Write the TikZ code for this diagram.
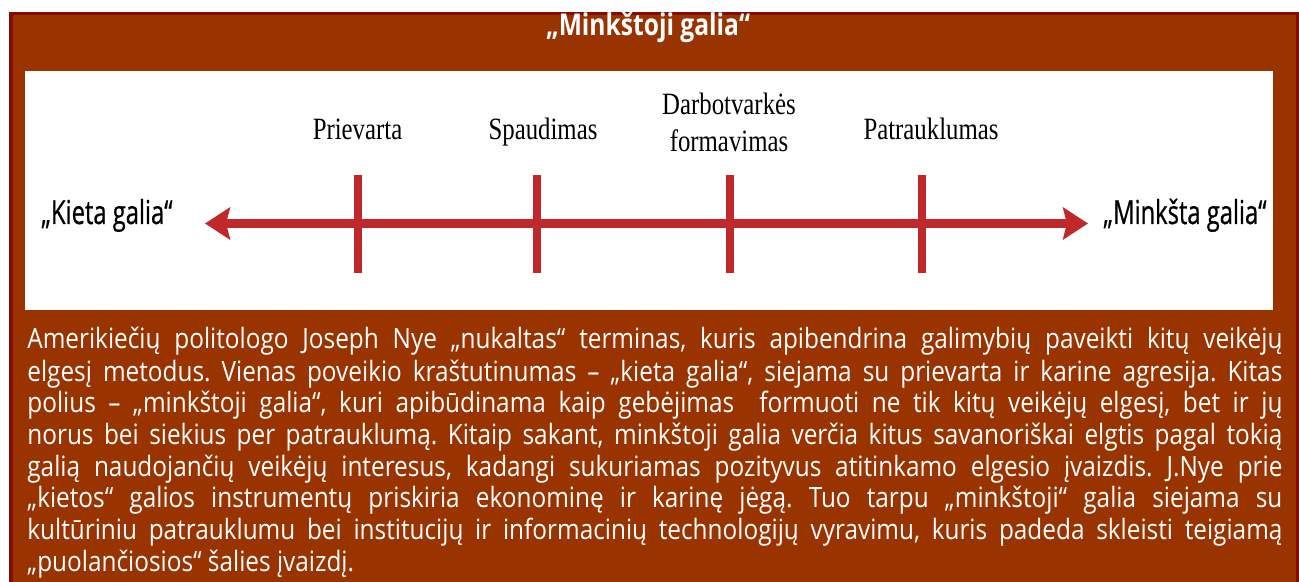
\documentclass[tikz,border=0pt]{standalone}
\usepackage{fontspec}
\setmainfont{Open Sans}
\newfontfamily\bodyfont{Open Sans}[FakeStretch=0.87]
\newfontfamily\titlefont{Open Sans}[FakeStretch=0.82]
\newfontfamily\polefont{Open Sans}[FakeStretch=0.72, FakeBold=0.6]
\newfontfamily\stepfont{Liberation Serif}[FakeStretch=0.8]
\usetikzlibrary{arrows.meta}
\definecolor{boxbrown}{HTML}{993300}
\definecolor{boxedge}{HTML}{860A06}
\definecolor{axisred}{HTML}{C0292B}
\newcommand{\fullline}[1]{\makebox[627.5pt][s]{#1}}
\frenchspacing
\tikzset{
    textline/.style={anchor=base west, inner sep=0pt, text=white, font=\bodyfont\fontsize{14}{16}\selectfont},
    titletext/.style={anchor=base, inner sep=0pt, text=white, font=\titlefont\bfseries\fontsize{15}{18}\selectfont},
    steplabel/.style={anchor=base, inner sep=0pt, font=\stepfont\fontsize{15.5}{18}\selectfont},
    polelabel/.style={anchor=base, inner sep=0pt, font=\polefont\fontsize{16.5}{20}\selectfont},
    axisline/.style={axisred, line width=4.5pt, {Stealth[length=12.5pt, width=16pt, inset=2pt]}-{Stealth[length=12.5pt, width=16pt, inset=2pt]}},
    tickmark/.style={axisred, line width=4pt}
}
\begin{document}
\begin{tikzpicture}[x=0.5pt,y=-0.5pt]
    \useasboundingbox (0,0) rectangle (1299,582);
    % Frame
    \fill[boxbrown] (9,12) rectangle (1299,582);
    \draw[boxedge, line width=1.75pt] (10.75,582) |- (1297.25,13.75) -- (1297.25,582);
    \fill[white] (25,71) rectangle (1273,310);
    \node[titletext] (title) at (648,36) {„Minkštoji galia“};
    % Axis
    \coordinate (hard) at (205,223.5);
    \coordinate (soft) at (1088,223.5);
    \foreach \x in {358,537,730,922}
        \draw[tickmark] (\x,175) -- (\x,273);
    \draw[axisline] (hard) -- (soft);
    % Labels
    \node[steplabel] (coercion) at (357.5,140) {Prievarta};
    \node[steplabel] (pressure) at (543,140) {Spaudimas};
    \node[steplabel] (agendatop) at (729,115) {Darbotvarkės};
    \node[steplabel] (agendabot) at (729,152) {formavimas};
    \node[steplabel] (attraction) at (931,140) {Patrauklumas};
    \node[polelabel] (hardlabel) at (107,224) {„Kieta galia“};
    \node[polelabel] (softlabel) at (1185,224) {„Minkšta galia“};
    % Text
    \node[textline] (line1) at (27,349) {\fullline{Amerikiečių politologo Joseph Nye „nukaltas“ terminas, kuris apibendrina galimybių paveikti kitų veikėjų}};
    \node[textline] (line2) at (27,381) {\fullline{elgesį metodus. Vienas poveikio kraštutinumas – „kieta galia“, siejama su prievarta ir karine agresija. Kitas}};
    \node[textline] (line3) at (27,412) {\fullline{polius – „minkštoji galia“, kuri apibūdinama kaip gebėjimas\ \ formuoti ne tik kitų veikėjų elgesį, bet ir jų}};
    \node[textline] (line4) at (27,444) {\fullline{norus bei siekius per patrauklumą. Kitaip sakant, minkštoji galia verčia kitus savanoriškai elgtis pagal tokią}};
    \node[textline] (line5) at (27,476) {\fullline{galią naudojančių veikėjų interesus, kadangi sukuriamas pozityvus atitinkamo elgesio įvaizdis. J.Nye prie}};
    \node[textline] (line6) at (27,507) {\fullline{„kietos“ galios instrumentų priskiria ekonominę ir karinę jėgą. Tuo tarpu „minkštoji“ galia siejama su}};
    \node[textline] (line7) at (27,539) {\fullline{kultūriniu patrauklumu bei institucijų ir informacinių technologijų vyravimu, kuris padeda skleisti teigiamą}};
    \node[textline] (line8) at (27,571) {„puolančiosios“ šalies įvaizdį.};
\end{tikzpicture}
\end{document}
